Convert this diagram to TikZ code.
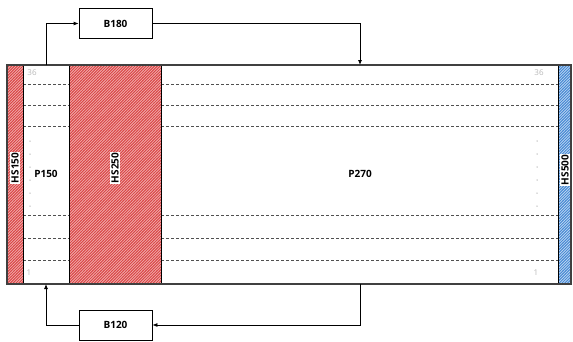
\documentclass[tikz,border=0pt]{standalone}
\usepackage{fontspec}
\setmainfont{Open Sans}
\usetikzlibrary{patterns,arrows.meta}
\definecolor{redfill}{HTML}{F2B8B8}
\definecolor{redline}{HTML}{DB4848}
\definecolor{bluefill}{HTML}{C4DDF5}
\definecolor{blueline}{HTML}{4A8AD4}
\definecolor{numgray}{HTML}{B8B8B8}
\definecolor{dashgray}{HTML}{505050}
\pgfdeclarepatternformonly{fineNE}{\pgfqpoint{-1pt}{-1pt}}{\pgfqpoint{3pt}{3pt}}{\pgfqpoint{2.8pt}{2.8pt}}{%
  \pgfsetlinewidth{1pt}%
  \pgfpathmoveto{\pgfqpoint{-0.2pt}{-0.2pt}}%
  \pgfpathlineto{\pgfqpoint{3pt}{3pt}}%
  \pgfusepath{stroke}}
\tikzset{
  redhatch/.style={fill=redfill,postaction={pattern=fineNE,pattern color=redline}},
  bluehatch/.style={fill=bluefill,postaction={pattern=fineNE,pattern color=blueline}},
  sep/.style={draw=black,line width=0.9pt},
  rowline/.style={draw=dashgray,dash pattern=on 3pt off 2pt,line width=0.8pt},
  vlabel/.style={rotate=90,fill=white,inner sep=1pt,font=\bfseries\fontsize{10}{11}\selectfont},
  plabel/.style={font=\bfseries\fontsize{10}{12}\selectfont},
  bbox/.style={draw=black,line width=0.8pt,minimum width=73pt,minimum height=30pt,font=\bfseries\fontsize{10}{12}\selectfont,inner sep=0pt},
  num/.style={text=numgray,font=\fontsize{8}{9}\selectfont,inner sep=0pt},
  dotmark/.style={fill=numgray,circle,inner sep=0pt,minimum size=1.5pt},
  flow/.style={draw=black,line width=0.8pt,-{Latex[length=5pt,width=4pt]}},
}
\begin{document}
\begin{tikzpicture}[x=1pt,y=-1pt]
\useasboundingbox (0,0) rectangle (573,341);
% filled regions
\path[redhatch] (7,65) rectangle (23,284);
\path[redhatch] (69,65) rectangle (161,284);
\path[bluehatch] (558,65) rectangle (571,284);
% dashed rows
\foreach \y in {84,105,126,215,238,260} {
  \draw[rowline] (23,\y) -- (69,\y);
  \draw[rowline] (161,\y) -- (558,\y);
}
% dots
\foreach \y in {141,154,167,180,193,206} {
  \node[dotmark] at (30,\y) {};
  \node[dotmark] at (537,\y) {};
}
% numbers
\node[num] (n36a) at (32,73) {36};
\node[num] (n36b) at (539,73) {36};
\node[num] (n1a) at (29,273) {1};
\node[num] (n1b) at (536,273) {1};
% separators and outer frame
\draw[sep] (23,65) -- (23,284);
\draw[sep] (69,65) -- (69,284);
\draw[sep] (161,65) -- (161,284);
\draw[sep] (558,65) -- (558,284);
\draw[draw=black!75,line width=1.1pt] (7,65) rectangle (571,284);
% nodes
\node[coordinate] (ptop) at (46,65) {};
\node[coordinate] (pbot) at (46,284) {};
\node[coordinate] (qtop) at (360,65) {};
\node[coordinate] (qbot) at (360,284) {};
\node[vlabel] (hs150) at (15,168) {HS150};
\node[plabel] (p150) at (46,174) {P150};
\node[vlabel] (hs250) at (115,168) {HS250};
\node[plabel] (p270) at (360,174) {P270};
\node[vlabel] (hs500) at (565,170) {HS500};
\node[bbox] (b180) at (115.5,23.5) {B180};
\node[bbox] (b120) at (115.5,325) {B120};
% flows
\draw[flow] (ptop) |- (b180.west);
\draw[flow] (b180.east) -| (qtop);
\draw[flow] (qbot) |- (b120.east);
\draw[flow] (b120.west) -| (pbot);
\end{tikzpicture}
\end{document}
